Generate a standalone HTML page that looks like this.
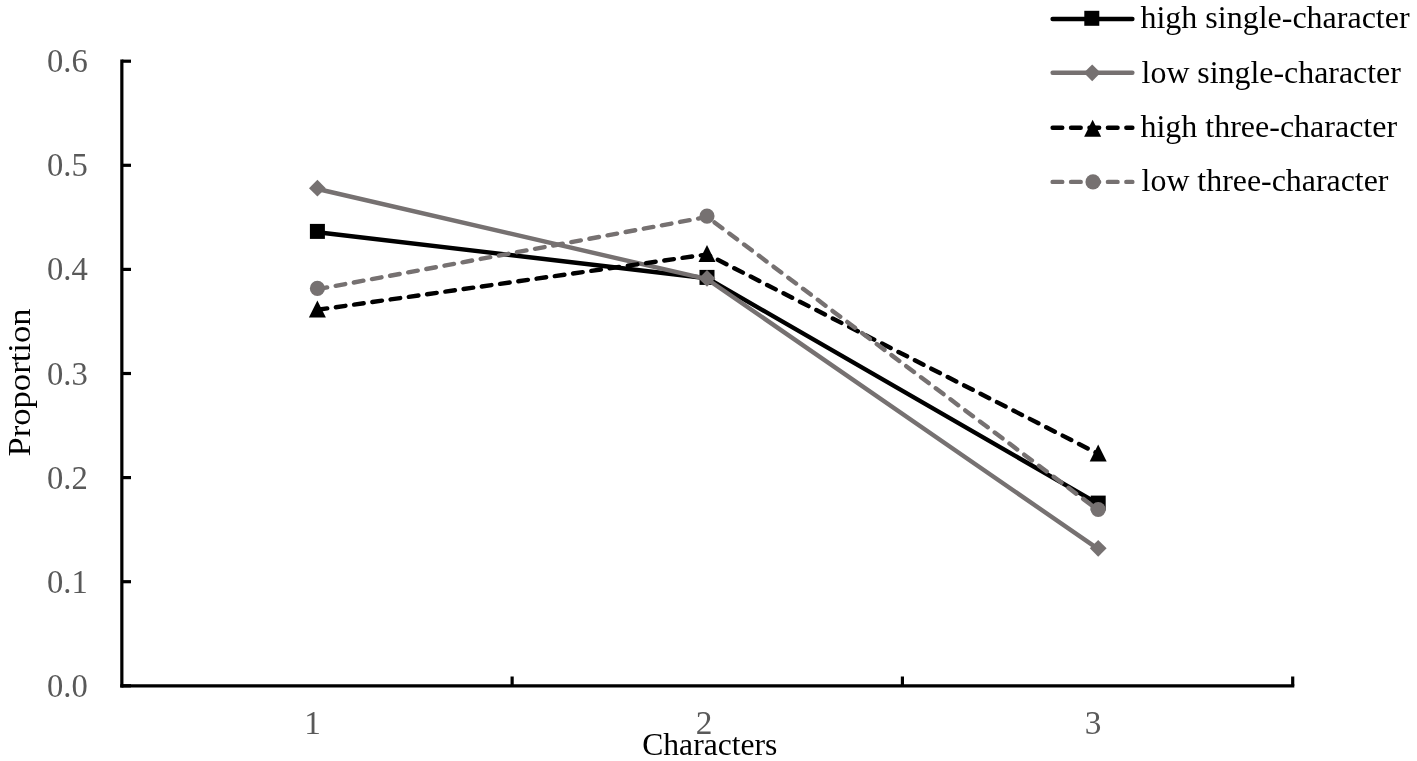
<!DOCTYPE html>
<html lang="en"><head><meta charset="utf-8"><title>Proportion by Characters</title>
<style>html,body{margin:0;padding:0;background:#fff}body{width:1417px;height:761px;overflow:hidden}svg{display:block}text{font-family:"Liberation Serif","Times New Roman",serif;font-size:32px}</style>
</head><body>
<svg width="1417" height="761" viewBox="0 0 1417 761">
<rect width="1417" height="761" fill="#fff"/>
<g stroke="#000" stroke-width="3.2" fill="none">
<path d="M121.85,59.60 V687.40"/>
<path d="M120.25,685.8 H1294.30"/>
<path d="M121.85,61.20 H131"/>
<path d="M121.85,165.30 H131"/>
<path d="M121.85,269.40 H131"/>
<path d="M121.85,373.50 H131"/>
<path d="M121.85,477.60 H131"/>
<path d="M121.85,581.70 H131"/>
<path d="M121.85,685.80 H131"/>
<path d="M512.13,685.8 V676.5"/>
<path d="M902.42,685.8 V676.5"/>
<path d="M1292.70,685.8 V676.5"/>
</g>
<g fill="none" stroke-width="4.4" stroke-linejoin="round" stroke-linecap="round">
<polyline points="317.6,232.2 707.2,278.2 1098.4,503.9" stroke="#000"/>
</g>
<rect x="309.90" y="223.90" width="15.0" height="15.0" fill="#000"/><rect x="699.50" y="269.90" width="15.0" height="15.0" fill="#000"/><rect x="1090.70" y="495.60" width="15.0" height="15.0" fill="#000"/>
<g fill="none" stroke-width="4.4" stroke-linejoin="round" stroke-linecap="round">
<polyline points="317.6,189.0 707.2,279.2 1098.4,549.1" stroke="#767171"/>
</g>
<polygon points="317.40,179.80 325.80,188.20 317.40,196.60 309.00,188.20" fill="#767171"/><polygon points="707.00,270.00 715.40,278.40 707.00,286.80 698.60,278.40" fill="#767171"/><polygon points="1098.20,539.90 1106.60,548.30 1098.20,556.70 1089.80,548.30" fill="#767171"/>
<g fill="none" stroke-width="4.4" stroke-linejoin="round" stroke-linecap="round" stroke-dasharray="9.7 8.73">
<polyline points="317.6,309.8 707.2,254.4 1098.4,453.9" stroke="#000"/>
</g>
<polygon points="317.40,300.50 325.90,317.50 308.90,317.50" fill="#000"/><polygon points="707.00,245.10 715.50,262.10 698.50,262.10" fill="#000"/><polygon points="1098.20,444.60 1106.70,461.60 1089.70,461.60" fill="#000"/>
<g fill="none" stroke-width="4.4" stroke-linejoin="round" stroke-linecap="round" stroke-dasharray="9.7 8.73">
<polyline points="317.6,289.2 707.2,216.9 1098.4,510.3" stroke="#767171"/>
</g>
<circle cx="317.40" cy="288.40" r="7.55" fill="#767171"/><circle cx="707.00" cy="216.10" r="7.55" fill="#767171"/><circle cx="1098.20" cy="509.50" r="7.55" fill="#767171"/>
<path d="M1052.6,19.0 H1132.4" stroke="#000" stroke-width="4.4" stroke-linecap="round" fill="none"/>
<rect x="1084.30" y="10.80" width="15.0" height="15.0" fill="#000"/>
<text x="1140.4" y="28.2" fill="#000">high single-character</text>
<path d="M1052.6,72.8 H1132.4" stroke="#767171" stroke-width="4.4" stroke-linecap="round" fill="none"/>
<polygon points="1092.20,64.40 1100.60,72.80 1092.20,81.20 1083.80,72.80" fill="#767171"/>
<text x="1141.6" y="83.1" fill="#000" textLength="259.2" lengthAdjust="spacingAndGlyphs">low single-character</text>
<path d="M1052.6,127.8 H1132.4" stroke="#000" stroke-width="4.4" stroke-linecap="round" fill="none" stroke-dasharray="9.7 8.73"/>
<polygon points="1092.60,119.80 1101.10,136.80 1084.10,136.80" fill="#000"/>
<text x="1140.4" y="137.2" fill="#000">high three-character</text>
<path d="M1052.6,181.9 H1132.4" stroke="#767171" stroke-width="4.4" stroke-linecap="round" fill="none" stroke-dasharray="9.7 8.73"/>
<circle cx="1093.00" cy="181.90" r="7.55" fill="#767171"/>
<text x="1141.6" y="191.1" fill="#000" textLength="246.8" lengthAdjust="spacingAndGlyphs">low three-character</text>
<text x="47" y="71.80" fill="#595959" style="font-size:33.3px" textLength="40.8" lengthAdjust="spacingAndGlyphs">0.6</text>
<text x="47" y="176.06" fill="#595959" style="font-size:33.3px" textLength="40.8" lengthAdjust="spacingAndGlyphs">0.5</text>
<text x="47" y="280.32" fill="#595959" style="font-size:33.3px" textLength="40.8" lengthAdjust="spacingAndGlyphs">0.4</text>
<text x="47" y="384.58" fill="#595959" style="font-size:33.3px" textLength="40.8" lengthAdjust="spacingAndGlyphs">0.3</text>
<text x="47" y="488.84" fill="#595959" style="font-size:33.3px" textLength="40.8" lengthAdjust="spacingAndGlyphs">0.2</text>
<text x="47" y="593.10" fill="#595959" style="font-size:33.3px" textLength="40.8" lengthAdjust="spacingAndGlyphs">0.1</text>
<text x="47" y="697.36" fill="#595959" style="font-size:33.3px" textLength="40.8" lengthAdjust="spacingAndGlyphs">0.0</text>
<text x="312.70" y="733.7" fill="#595959" text-anchor="middle" style="font-size:33.3px">1</text>
<text x="704.20" y="733.7" fill="#595959" text-anchor="middle" style="font-size:33.3px">2</text>
<text x="1093.00" y="733.7" fill="#595959" text-anchor="middle" style="font-size:33.3px">3</text>
<text x="642.2" y="755" fill="#000" textLength="135.2" lengthAdjust="spacingAndGlyphs">Characters</text>
<text transform="translate(29.5,456.5) rotate(-90)" fill="#000" textLength="148" lengthAdjust="spacingAndGlyphs">Proportion</text>
</svg></body></html>
